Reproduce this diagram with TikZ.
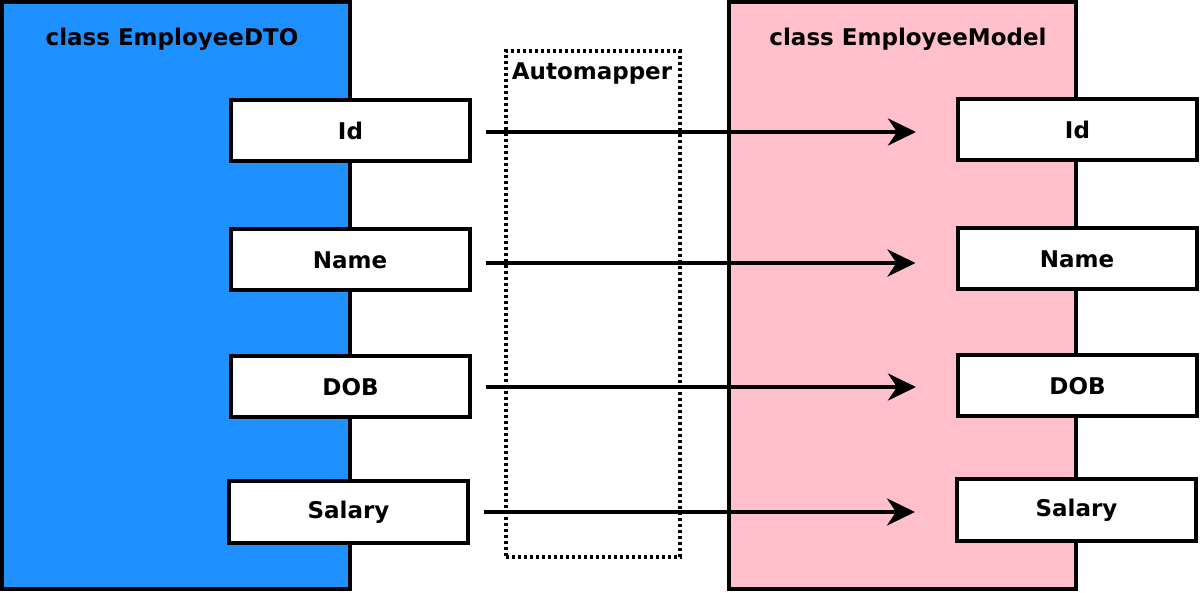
\documentclass[tikz,border=0pt]{standalone}
\usepackage{fontspec}
\setmainfont{DejaVu Sans}
\usetikzlibrary{arrows.meta}
\definecolor{dtoblue}{HTML}{1E90FF}
\definecolor{modelpink}{HTML}{FFC0CB}
\begin{document}
\begin{tikzpicture}[x=1pt,y=-1pt,
  classbox/.style={draw=black,line width=4pt,outer sep=0pt,minimum height=587pt,inner sep=0pt,anchor=north west},
  fieldbox/.style={draw=black,fill=white,line width=4pt,outer sep=0pt,minimum width=239pt,minimum height=61pt,inner sep=0pt,
    font=\fontsize{23}{27}\selectfont\bfseries},
  titletext/.style={inner sep=0pt,font=\fontsize{23}{27}\selectfont\bfseries},
  maparrow/.style={line width=4pt,-{Stealth[length=28pt,width=27pt,inset=9pt]},shorten <=16pt,shorten >=42pt}]
\useasboundingbox (0,0) rectangle (1200,593);
\node[classbox,fill=dtoblue,minimum width=348pt] (dto) at (2,2) {};
\node[classbox,fill=modelpink,minimum width=347pt] (model) at (729,2) {};
\node[titletext] (dtotitle) at (172,39) {class EmployeeDTO};
\node[titletext] (modeltitle) at (908,39) {class EmployeeModel};
\node[draw=black,line width=3.5pt,outer sep=0pt,dash pattern=on 3pt off 3pt,minimum width=174pt,minimum height=506pt,inner sep=0pt,anchor=north west] (mapper) at (506,51) {};
\node[titletext] (mappertitle) at (592,74) {Automapper};
\node[fieldbox] (lid) at (350.5,131) {Id};
\node[fieldbox] (lname) at (350,260) {Name};
\node[fieldbox] (ldob) at (350.5,387) {DOB};
\node[fieldbox] (lsal) at (348.5,512) {Salary};
\node[fieldbox] (rid) at (1077.5,130) {Id};
\node[fieldbox] (rname) at (1077,259) {Name};
\node[fieldbox] (rdob) at (1077.5,386) {DOB};
\node[fieldbox] (rsal) at (1076.5,510) {Salary};
\draw[maparrow] ([yshift=-1pt]lid.east) -- ([yshift=-1pt]lid.east -| rid.west);
\draw[maparrow] ([yshift=-3pt]lname.east) -- ([yshift=-3pt]lname.east -| rname.west);
\draw[maparrow] (ldob.east) -- (ldob.east -| rdob.west);
\draw[maparrow] (lsal.east) -- (lsal.east -| rsal.west);
\end{tikzpicture}
\end{document}
